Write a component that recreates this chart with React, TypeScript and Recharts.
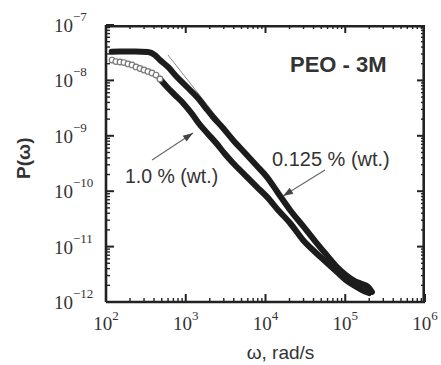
import { ComposedChart, Line, XAxis, YAxis } from "recharts";

// PEO 3M solutions: power spectrum P(ω) vs angular frequency ω (rad/s)
const omegaDilute = [118, 150, 231, 336, 411, 475, 599, 776, 1037, 1384, 1742, 2197, 2931, 3910, 5530, 7820, 10440, 14350, 20300, 29500, 41800, 57400, 78900, 102000, 132000, 162000, 193000, 216000];
const powerDilute = [3.28e-8, 3.32e-8, 3.32e-8, 3.26e-8, 2.87e-8, 2.33e-8, 1.75e-8, 1.15e-8, 7.6e-9, 5.0e-9, 3.31e-9, 2.18e-9, 1.38e-9, 8.4e-10, 4.9e-10, 2.85e-10, 1.8e-10, 9.3e-11, 4.58e-11, 2.36e-11, 1.26e-11, 7.3e-12, 4.28e-12, 3.07e-12, 2.39e-12, 2.11e-12, 1.87e-12, 1.52e-12];

// 1.0 % run: low-frequency points are drawn hollow
const omegaConcOpen = [119, 133, 150, 168, 189, 212, 238, 267, 299, 336, 377, 424, 475];
const powerConcOpen = [2.33e-8, 2.19e-8, 2.15e-8, 2.1e-8, 1.98e-8, 1.9e-8, 1.75e-8, 1.64e-8, 1.54e-8, 1.45e-8, 1.36e-8, 1.25e-8, 1.06e-8];
const omegaConc = [475, 582, 733, 924, 1198, 1509, 1901, 2465, 3104, 3910, 5530, 7820, 10440, 14350, 20300, 29500, 41800, 57400, 78900, 102000, 132000, 162000, 199000];
const powerConc = [1.06e-8, 7.6e-9, 5.45e-9, 3.91e-9, 2.48e-9, 1.57e-9, 1.08e-9, 7.1e-10, 4.69e-10, 3.23e-10, 1.96e-10, 1.19e-10, 7.9e-11, 4.58e-11, 2.67e-11, 1.32e-11, 8.0e-12, 5.27e-12, 3.48e-12, 2.49e-12, 1.95e-12, 1.65e-12, 1.45e-12];

// power-law guide lines
const omegaFitDilute = [598, 5000];
const powerFitDilute = [2.88e-8, 5.9e-10];
const omegaFitConc = [357, 60000];
const powerFitConc = [1.54e-8, 4.5e-12];

// annotation arrows (tail -> head)
const omegaArrowConc = [378, 1233];
const powerArrowConc = [3.66e-10, 1.12e-9];
const omegaArrowDilute = [55700, 16600];
const powerArrowDilute = [2.42e-10, 8.2e-11];

// annotation anchors (left end of text baseline)
const noteLabels = ["1.0 % (wt.)", "0.125 % (wt.)", "PEO - 3M"];
const noteOmega = [173, 12050, 20300];
const notePower = [1.41e-10, 2.85e-10, 1.42e-8];

const X_MIN = 100;
const X_MAX = 1e6;
const Y_MIN = 1e-12;
const Y_MAX = 1e-7;

const xDecades = [2, 3, 4, 5];
const yDecades = [-12, -11, -10, -9, -8];
const mantissas = [1, 2, 3, 4, 5, 6, 7, 8, 9];

const xTicks = [...xDecades.flatMap((d) => mantissas.map((m) => m * 10 ** d)), X_MAX];
const yTicks = [...yDecades.flatMap((d) => mantissas.map((m) => m * 10 ** d)), Y_MAX];

const zip = (w: number[], p: number[]) => w.map((v, i) => ({ w: v, p: p[i] }));

const dilute = zip(omegaDilute, powerDilute);
const concOpen = zip(omegaConcOpen, powerConcOpen);
const conc = zip(omegaConc, powerConc);
const fitDilute = zip(omegaFitDilute, powerFitDilute);
const fitConc = zip(omegaFitConc, powerFitConc);
const arrowConc = zip(omegaArrowConc, powerArrowConc);
const arrowDilute = zip(omegaArrowDilute, powerArrowDilute);
const notes = noteLabels.map((label, i) => [{ w: noteOmega[i], p: notePower[i], label }]);

// top and right edges of the box, carrying the mirrored ticks
const topEdge = xTicks.map((w) => ({ w, p: Y_MAX, edge: "top" }));
const rightEdge = [...yTicks].reverse().map((p) => ({ w: X_MAX, p, edge: "right" }));

const INK = "#222";
const TEXT = "#333";
const SERIF = "'Liberation Serif', 'DejaVu Serif', serif";
const SANS = "'Liberation Sans', Arial, sans-serif";

const isDecade = (v: number) => {
  const l = Math.log10(v);
  return Math.abs(l - Math.round(l)) < 1e-6;
};

const expText = (v: number) => {
  const e = Math.round(Math.log10(v));
  return e < 0 ? `\u2212${-e}` : `${e}`;
};

const tickLen = (v: number) => (isDecade(v) ? 8 : 4);
const tickW = (v: number) => (isDecade(v) ? 2 : 1.4);

// bottom axis tick; 10^4 also carries the axis title
const XTick = ({ x, y, payload }: any) => {
  const v = payload.value;
  return (
    <g>
      <line x1={x} y1={y} x2={x} y2={Number(y) - tickLen(v)} stroke={INK} strokeWidth={tickW(v)} />
      {isDecade(v) && (
        <text x={x} y={Number(y) + 28} textAnchor="middle" fontFamily={SERIF} fontSize={19} fill={TEXT}>
          10<tspan dy={-10} fontSize={13}>{expText(v)}</tspan>
        </text>
      )}
      {v === 1e4 && (
        <text x={Number(x) + 15} y={Number(y) + 57} textAnchor="middle" fontFamily={SANS} fontSize={19} fill={TEXT}>
          ω, rad/s
        </text>
      )}
    </g>
  );
};

// left axis tick; 10^-10 also carries the axis title
const YTick = ({ x, y, payload }: any) => {
  const v = payload.value;
  const tx = Number(x) - 82;
  const ty = Number(y) - 33;
  return (
    <g>
      <line x1={x} y1={y} x2={Number(x) + tickLen(v)} y2={y} stroke={INK} strokeWidth={tickW(v)} />
      {isDecade(v) && (
        <text x={Number(x) - 52} y={Number(y) + 7} textAnchor="start" fontFamily={SERIF} fontSize={19} fill={TEXT}>
          10<tspan dy={-11} fontSize={13}>{expText(v)}</tspan>
        </text>
      )}
      {isDecade(v) && Math.round(Math.log10(v)) === -10 && (
        <text
          x={tx}
          y={ty}
          textAnchor="middle"
          dominantBaseline="central"
          transform={`rotate(-90, ${tx}, ${ty})`}
          fontFamily={SANS}
          fontSize={19}
          fontWeight="bold"
          fill={TEXT}
        >
          P(ω)
        </text>
      )}
    </g>
  );
};

// inward tick marks on the top and right edges
const EdgeTick = (props: any) => {
  const { cx, cy, index, payload } = props;
  const top = payload.edge === "top";
  const v = top ? payload.w : payload.p;
  const len = tickLen(v);
  return (
    <line
      key={`et-${payload.edge}-${index}`}
      x1={cx}
      y1={cy}
      x2={top ? cx : cx - len}
      y2={top ? cy + len : cy}
      stroke={INK}
      strokeWidth={tickW(v)}
    />
  );
};

// arrowhead drawn on the last point of a two-point line
const ArrowHead = (props: any) => {
  const { cx, cy, index, points } = props;
  if (index !== 1 || !points || points.length < 2) return <g key={`ah-${index}`} />;
  const a = Math.atan2(cy - points[0].y, cx - points[0].x);
  const L = 10;
  const H = 3.5;
  const bx = cx - L * Math.cos(a);
  const by = cy - L * Math.sin(a);
  const pts = [
    [cx, cy],
    [bx - H * Math.sin(a), by + H * Math.cos(a)],
    [bx + H * Math.sin(a), by - H * Math.cos(a)],
  ];
  return <polygon key={`ah-${index}`} points={pts.map((p) => p.join(",")).join(" ")} fill="#444" />;
};

const NoteText = (size: number, weight: string | number) => (props: any) => (
  <text key={`n-${props.index}`} x={props.cx} y={props.cy} fontFamily={SANS} fontSize={size} fontWeight={weight} fill={TEXT}>
    {props.payload.label}
  </text>
);

const noteStyle: [number, string][] = [
  [19.5, "normal"],
  [20, "normal"],
  [22, "bold"],
];

const axisLine = { stroke: INK, strokeWidth: 2.6 };

export default function App() {
  return (
    <div style={{ position: "absolute", left: 0, top: 0 }}>
      <ComposedChart width={441} height={365} margin={{ top: 25, right: 16, bottom: 0, left: 0 }}>
        <XAxis
          dataKey="w"
          type="number"
          scale="log"
          domain={[X_MIN, X_MAX]}
          allowDataOverflow
          ticks={xTicks}
          interval={0}
          tick={<XTick />}
          tickLine={false}
          tickSize={0}
          tickMargin={0}
          axisLine={axisLine}
          height={63}
        />
        <YAxis
          dataKey="p"
          type="number"
          scale="log"
          domain={[Y_MIN, Y_MAX]}
          allowDataOverflow
          ticks={yTicks}
          interval={0}
          tick={<YTick />}
          tickLine={false}
          tickSize={0}
          tickMargin={0}
          axisLine={axisLine}
          width={106}
        />

        <Line
          data={concOpen}
          dataKey="p"
          stroke="none"
          dot={{ r: 2.8, fill: "#fff", stroke: "#777", strokeWidth: 1.2 }}
          isAnimationActive={false}
        />
        <Line data={fitDilute} dataKey="p" stroke="#888" strokeWidth={1} dot={false} isAnimationActive={false} />
        <Line data={fitConc} dataKey="p" stroke="#888" strokeWidth={1} dot={false} isAnimationActive={false} />
        <Line
          data={conc}
          dataKey="p"
          type="monotone"
          stroke="#1c1c1c"
          strokeWidth={6}
          strokeLinecap="round"
          dot={false}
          isAnimationActive={false}
        />
        <Line
          data={dilute}
          dataKey="p"
          type="monotone"
          stroke="#1c1c1c"
          strokeWidth={6}
          strokeLinecap="round"
          dot={false}
          isAnimationActive={false}
        />

        <Line data={arrowConc} dataKey="p" stroke="#666" strokeWidth={1.1} dot={ArrowHead} isAnimationActive={false} />
        <Line data={arrowDilute} dataKey="p" stroke="#666" strokeWidth={1.1} dot={ArrowHead} isAnimationActive={false} />

        {notes.map((d, i) => (
          <Line
            key={noteLabels[i]}
            data={d}
            dataKey="p"
            stroke="none"
            dot={NoteText(noteStyle[i][0], noteStyle[i][1])}
            isAnimationActive={false}
          />
        ))}

        {/* box edges are clipped to the plot area, so half of the stroke shows */}
        <Line data={topEdge} dataKey="p" stroke={INK} strokeWidth={5.2} dot={EdgeTick} isAnimationActive={false} />
        <Line data={rightEdge} dataKey="p" stroke={INK} strokeWidth={5.2} dot={EdgeTick} isAnimationActive={false} />
      </ComposedChart>
    </div>
  );
}
